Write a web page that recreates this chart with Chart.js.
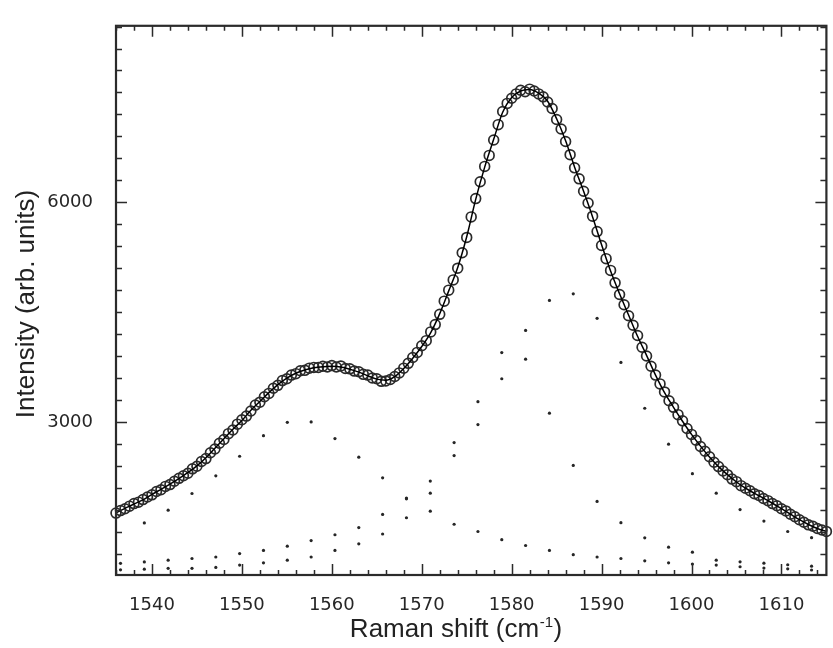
<!DOCTYPE html>
<html>
<head>
<meta charset="utf-8">
<title>Raman spectrum fit</title>
<script src="https://cdn.jsdelivr.net/npm/chart.js@4.4.1/dist/chart.umd.min.js"></script>
<style>
  html, body { margin: 0; padding: 0; background: #fff; }
  #wrap { width: 833px; height: 648px; }
</style>
</head>
<body>
<div id="wrap"><canvas id="ramanChart"></canvas></div>
<script>
// Measured spectrum (open circles), Raman shift in cm-1
const measShift = [
  1536.0, 1536.5, 1537.0, 1537.5, 1538.0, 1538.5, 1539.0, 1539.5, 1540.0, 1540.5,
  1541.0, 1541.5, 1542.0, 1542.5, 1543.0, 1543.5, 1544.0, 1544.5, 1545.0, 1545.5,
  1546.0, 1546.5, 1547.0, 1547.5, 1548.0, 1548.5, 1549.0, 1549.5, 1550.0, 1550.5,
  1551.0, 1551.5, 1552.0, 1552.5, 1553.0, 1553.5, 1554.0, 1554.5, 1555.0, 1555.5,
  1556.0, 1556.5, 1557.0, 1557.5, 1558.0, 1558.5, 1559.0, 1559.5, 1560.0, 1560.5,
  1561.0, 1561.5, 1562.0, 1562.5, 1563.0, 1563.5, 1564.0, 1564.5, 1565.0, 1565.5,
  1566.0, 1566.5, 1567.0, 1567.5, 1568.0, 1568.5, 1569.0, 1569.5, 1570.0, 1570.5,
  1571.0, 1571.5, 1572.0, 1572.5, 1573.0, 1573.5, 1574.0, 1574.5, 1575.0, 1575.5,
  1576.0, 1576.5, 1577.0, 1577.5, 1578.0, 1578.5, 1579.0, 1579.5, 1580.0, 1580.5,
  1581.0, 1581.5, 1582.0, 1582.5, 1583.0, 1583.5, 1584.0, 1584.5, 1585.0, 1585.5,
  1586.0, 1586.5, 1587.0, 1587.5, 1588.0, 1588.5, 1589.0, 1589.5, 1590.0, 1590.5,
  1591.0, 1591.5, 1592.0, 1592.5, 1593.0, 1593.5, 1594.0, 1594.5, 1595.0, 1595.5,
  1596.0, 1596.5, 1597.0, 1597.5, 1598.0, 1598.5, 1599.0, 1599.5, 1600.0, 1600.5,
  1601.0, 1601.5, 1602.0, 1602.5, 1603.0, 1603.5, 1604.0, 1604.5, 1605.0, 1605.5,
  1606.0, 1606.5, 1607.0, 1607.5, 1608.0, 1608.5, 1609.0, 1609.5, 1610.0, 1610.5,
  1611.0, 1611.5, 1612.0, 1612.5, 1613.0, 1613.5, 1614.0, 1614.5, 1615.0
];
const measIntensity = [
  1755, 1790, 1815, 1850, 1885, 1905, 1940, 1975, 2005, 2050,
  2075, 2120, 2145, 2190, 2230, 2265, 2300, 2360, 2395, 2460,
  2500, 2580, 2630, 2710, 2760, 2840, 2890, 2970, 3030, 3080,
  3150, 3230, 3270, 3345, 3390, 3460, 3500, 3565, 3590, 3640,
  3660, 3700, 3705, 3735, 3745, 3745, 3760, 3750, 3770, 3750,
  3765, 3730, 3725, 3695, 3685, 3650, 3640, 3600, 3590, 3555,
  3560, 3580, 3620, 3670, 3735, 3800, 3880, 3950, 4040, 4110,
  4230, 4330, 4470, 4650, 4800, 4940, 5100, 5310, 5520, 5800,
  6050, 6280, 6490, 6640, 6850, 7060, 7240, 7350, 7420, 7480,
  7530, 7510, 7545, 7520, 7480, 7440, 7370, 7280, 7130, 7000,
  6830, 6650, 6470, 6320, 6150, 5990, 5810, 5600, 5410, 5230,
  5070, 4900, 4740, 4600, 4450, 4320, 4180, 4020, 3900, 3760,
  3640, 3520, 3410, 3290, 3200, 3100, 3015, 2910, 2830, 2750,
  2665, 2600, 2525, 2450, 2390, 2330, 2280, 2220, 2185, 2130,
  2095, 2060, 2020, 1995, 1955, 1925, 1885, 1855, 1815, 1785,
  1740, 1705, 1665, 1630, 1595, 1575, 1545, 1525, 1505
];

// Fitted envelope (solid line)
const fitShift = [
  1536, 1537, 1538, 1539, 1540, 1541, 1542, 1543, 1544, 1545,
  1546, 1547, 1548, 1549, 1550, 1551, 1552, 1553, 1554, 1555,
  1556, 1557, 1558, 1559, 1560, 1561, 1562, 1563, 1564, 1565,
  1566, 1567, 1568, 1569, 1570, 1571, 1572, 1573, 1574, 1575,
  1576, 1577, 1578, 1579, 1580, 1581, 1582, 1583, 1584, 1585,
  1586, 1587, 1588, 1589, 1590, 1591, 1592, 1593, 1594, 1595,
  1596, 1597, 1598, 1599, 1600, 1601, 1602, 1603, 1604, 1605,
  1606, 1607, 1608, 1609, 1610, 1611, 1612, 1613, 1614, 1615
];
const fitIntensity = [
  1760, 1820, 1880, 1935, 2010, 2080, 2150, 2225, 2310, 2400,
  2510, 2640, 2770, 2900, 3020, 3160, 3280, 3400, 3510, 3600,
  3665, 3710, 3740, 3755, 3760, 3750, 3720, 3680, 3630, 3585,
  3570, 3620, 3730, 3870, 4030, 4220, 4480, 4790, 5110, 5530,
  6040, 6480, 6860, 7230, 7430, 7520, 7540, 7490, 7380, 7140,
  6840, 6480, 6150, 5800, 5420, 5060, 4750, 4460, 4170, 3910,
  3640, 3400, 3200, 3010, 2830, 2670, 2520, 2390, 2280, 2180,
  2095, 2025, 1960, 1890, 1815, 1740, 1665, 1600, 1545, 1505
];

// Fitted component peaks (dotted), sampled positions
const peakShift = [
  1536.5, 1539.15, 1541.8, 1544.45, 1547.1, 1549.75, 1552.4, 1555.05, 1557.7, 1560.35,
  1563.0, 1565.65, 1568.3, 1570.95, 1573.6, 1576.25, 1578.9, 1581.55, 1584.2, 1586.85,
  1589.5, 1592.15, 1594.8, 1597.45, 1600.1, 1602.75, 1605.4, 1608.05, 1610.7, 1613.35
];
const peak1556 = [
  null, 1621, 1795, 2023, 2264, 2532, 2813, 2995, 3000, 2773,
  2519, 2237, 1950, 1782, 1603, 1504, 1393, 1313, 1246, 1188,
  1156, 1135, 1103, 1076, 1060, 1045, 1023, 1005, 995, 978
];
const peak1581 = [
  980, 990, 1001, 1001, 1014, 1045, 1076, 1112, 1156, 1246,
  1336, 1470, 1692, 2027, 2541, 2964, 3590, 3857, 3120, 2407,
  1915, 1625, 1417, 1290, 1222, 1112, 1090, 1072, 1050, 1030
];
const peak1587 = [
  1070, 1089, 1112, 1135, 1156, 1202, 1246, 1303, 1380, 1460,
  1558, 1737, 1960, 2193, 2719, 3277, 3947, 4250, 4660, 4750,
  4415, 3813, 3187, 2696, 2294, 2027, 1803, 1647, 1504, 1420
];

// Axis settings
const xMin = 1536, xMax = 1615, xMinorStep = 2;
const xLabels = [1540, 1550, 1560, 1570, 1580, 1590, 1600, 1610];
const yMin = 910, yMax = 8410, yMinorStep = 300, yFirstTick = 1200;
const yLabels = [3000, 6000];

const INK = '#2b2b2b';

function pairs(xs, ys) {
    return xs.map((x, i) => ({ x: x, y: ys[i] })).filter(p => p.y !== null);
}

function minorTicks(start, end, step) {
    const out = [];
    for (let v = start; v <= end + 1e-9; v += step) out.push(Math.round(v * 100) / 100);
    return out;
}
const xTickValues = minorTicks(xMin, xMax - 1, xMinorStep);
const yTickValues = minorTicks(yFirstTick, yMax, yMinorStep);

// Frame, inward ticks on all four sides and the axis titles
const framePlugin = {
    id: 'frame',
    afterDraw(chart) {
        const { ctx, chartArea: a, scales } = chart;
        ctx.save();
        ctx.strokeStyle = INK;
        ctx.lineWidth = 1.5;
        ctx.beginPath();
        xTickValues.forEach(v => {
            const px = Math.round(scales.x.getPixelForValue(v)) + 0.5;
            const len = xLabels.includes(v) ? 11 : 5;
            ctx.moveTo(px, a.bottom); ctx.lineTo(px, a.bottom - len);
            ctx.moveTo(px, a.top); ctx.lineTo(px, a.top + len);
        });
        yTickValues.forEach(v => {
            const py = Math.round(scales.y.getPixelForValue(v)) + 0.5;
            const len = yLabels.includes(v) ? 11 : 6;
            ctx.moveTo(a.left, py); ctx.lineTo(a.left + len, py);
            ctx.moveTo(a.right, py); ctx.lineTo(a.right - len, py);
        });
        ctx.stroke();

        ctx.lineWidth = 2.2;
        ctx.strokeRect(a.left, a.top, a.right - a.left, a.bottom - a.top);

        // x title with superscript
        ctx.fillStyle = '#222';
        ctx.textBaseline = 'alphabetic';
        ctx.textAlign = 'left';
        const bigFont = '26px "Liberation Sans", Arial, sans-serif';
        const supFont = '15px "Liberation Sans", Arial, sans-serif';
        const t1 = 'Raman shift (cm', t2 = '-1', t3 = ')';
        ctx.font = bigFont;
        const w1 = ctx.measureText(t1).width, w3 = ctx.measureText(t3).width;
        ctx.font = supFont;
        const w2 = ctx.measureText(t2).width;
        let x0 = 456 - (w1 + w2 + w3 + 1) / 2;
        const base = 637;
        ctx.font = bigFont; ctx.fillText(t1, x0, base);
        ctx.font = supFont; ctx.fillText(t2, x0 + w1 + 0.5, base - 10);
        ctx.font = bigFont; ctx.fillText(t3, x0 + w1 + w2 + 1, base);

        // y title, rotated
        ctx.save();
        ctx.translate(34, 304);
        ctx.rotate(-Math.PI / 2);
        ctx.textAlign = 'center';
        ctx.font = bigFont;
        ctx.fillText('Intensity (arb. units)', 0, 0);
        ctx.restore();
        ctx.restore();
    }
};

const tickFont = { family: '"DejaVu Sans", sans-serif', size: 18 };

const ctx = document.getElementById('ramanChart').getContext('2d');
const ramanChart = new Chart(ctx, {
    type: 'scatter',
    data: {
        datasets: [
            {
                label: 'Fit',
                data: pairs(fitShift, fitIntensity),
                showLine: true,
                borderColor: '#000',
                borderWidth: 1.5,
                pointRadius: 0,
                cubicInterpolationMode: 'monotone',
                fill: false
            },
            {
                label: 'Measured',
                data: pairs(measShift, measIntensity),
                pointRadius: 4.9,
                pointBorderWidth: 1.7,
                borderColor: '#2a2a2a',
                backgroundColor: 'rgba(0,0,0,0)',
                clip: false
            },
            {
                label: 'Peak 1556',
                data: pairs(peakShift, peak1556),
                pointRadius: 1.6,
                pointBorderWidth: 0,
                backgroundColor: '#262626',
                borderColor: '#262626'
            },
            {
                label: 'Peak 1581',
                data: pairs(peakShift, peak1581),
                pointRadius: 1.6,
                pointBorderWidth: 0,
                backgroundColor: '#262626',
                borderColor: '#262626'
            },
            {
                label: 'Peak 1587',
                data: pairs(peakShift, peak1587),
                pointRadius: 1.6,
                pointBorderWidth: 0,
                backgroundColor: '#262626',
                borderColor: '#262626'
            }
        ]
    },
    options: {
        responsive: true,
        maintainAspectRatio: false,
        animation: false,
        layout: { padding: { left: 0, right: 2, top: 15, bottom: 0 } },
        plugins: {
            legend: { display: false },
            tooltip: { enabled: false }
        },
        scales: {
            x: {
                type: 'linear',
                min: xMin,
                max: xMax,
                grid: { display: false },
                border: { display: false },
                afterBuildTicks: scale => { scale.ticks = xTickValues.map(v => ({ value: v })); },
                afterFit: scale => { scale.height = 73; },
                ticks: {
                    autoSkip: false,
                    maxRotation: 0,
                    padding: 12,
                    color: '#262626',
                    font: tickFont,
                    callback: v => xLabels.includes(v) ? String(v) : ''
                }
            },
            y: {
                type: 'linear',
                min: yMin,
                max: yMax,
                grid: { display: false },
                border: { display: false },
                afterBuildTicks: scale => { scale.ticks = yTickValues.map(v => ({ value: v })); },
                afterFit: scale => { scale.width = 116; },
                ticks: {
                    autoSkip: false,
                    padding: 15,
                    color: '#262626',
                    font: tickFont,
                    callback: v => yLabels.includes(v) ? String(v) : ''
                }
            }
        }
    },
    plugins: [framePlugin]
});
</script>
</body>
</html>
